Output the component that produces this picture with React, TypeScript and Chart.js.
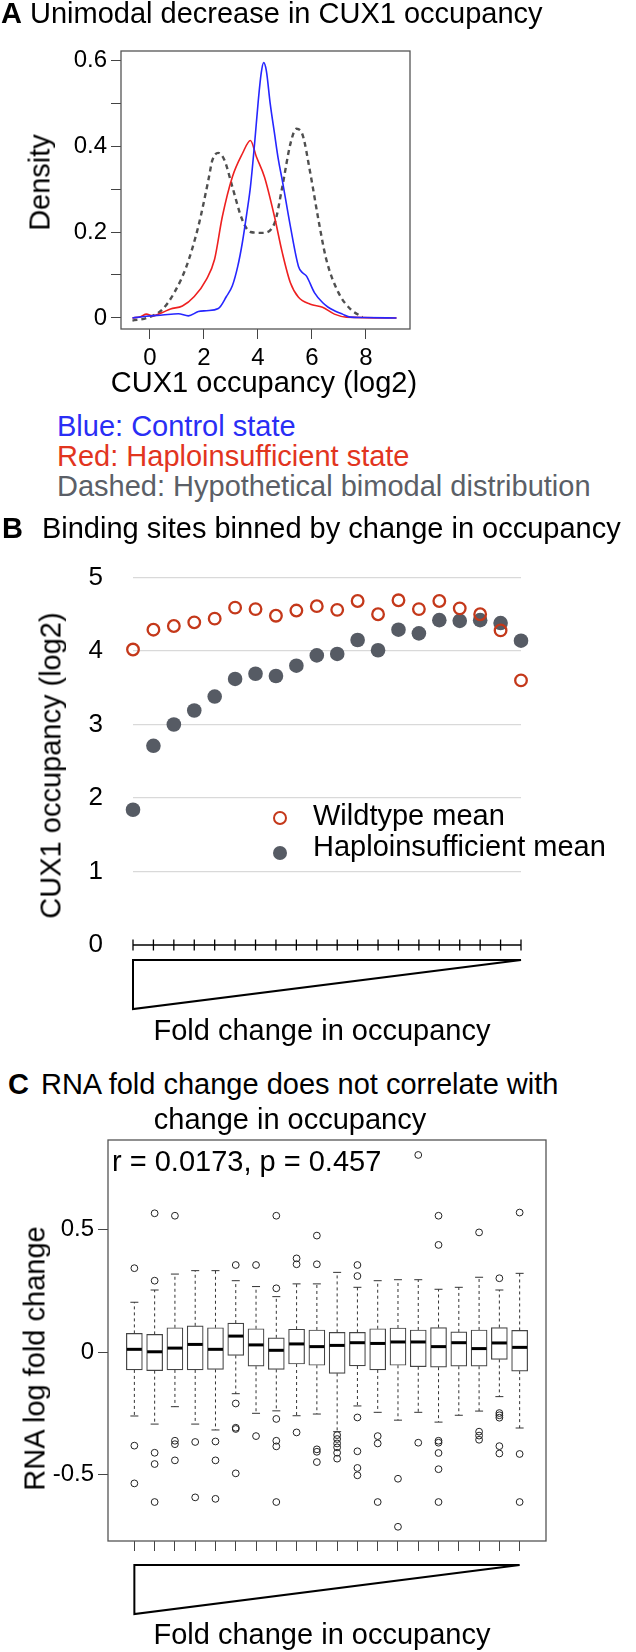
import React, { useEffect, useRef } from "react";
import { Chart, registerables } from "chart.js";

Chart.register(...registerables);

const FONT = '"Liberation Sans", Arial, Helvetica, sans-serif';
Chart.defaults.font.family = FONT;
Chart.defaults.color = "#000";

// ---------- Panel A: density curves ----------
const BLUE_X = [-0.65, -0.13, 0.46, 1.05, 1.42, 1.79, 2.09, 2.53, 2.83, 3.05, 3.25, 3.42, 3.6, 3.72, 3.88, 4.01, 4.12, 4.21, 4.31, 4.45, 4.61, 4.75, 4.9, 5.2, 5.5, 5.65, 5.79, 6.09, 6.39, 6.6, 6.83, 7.13, 7.42, 7.87, 9.13];
const BLUE_Y = [0, 0.004, 0.007, 0.01, 0.005, 0.015, 0.017, 0.022, 0.05, 0.075, 0.12, 0.175, 0.25, 0.305, 0.41, 0.505, 0.57, 0.594, 0.575, 0.5, 0.43, 0.37, 0.32, 0.213, 0.12, 0.105, 0.098, 0.059, 0.036, 0.025, 0.017, 0.009, 0.002, 0.001, 0];
const RED_X = [-0.65, -0.35, -0.13, 0.09, 0.46, 0.76, 1.2, 1.64, 2.09, 2.39, 2.68, 3.05, 3.42, 3.72, 3.94, 4.24, 4.61, 4.9, 5.2, 5.5, 5.94, 6.39, 6.83, 7.27, 9.13];
const RED_Y = [0, 0.003, 0.009, 0.005, 0.013, 0.021, 0.028, 0.05, 0.09, 0.136, 0.236, 0.328, 0.382, 0.413, 0.375, 0.328, 0.236, 0.152, 0.082, 0.048, 0.032, 0.025, 0.009, 0.002, 0];
const DASH_X = [-0.65, -0.13, 0.46, 0.9, 1.35, 1.79, 2.16, 2.31, 2.53, 2.76, 3.05, 3.42, 3.72, 4.16, 4.61, 4.9, 5.2, 5.42, 5.64, 5.94, 6.24, 6.53, 6.98, 7.42, 7.87];
const DASH_Y = [-0.006, 0, 0.02, 0.059, 0.12, 0.213, 0.32, 0.367, 0.384, 0.367, 0.305, 0.228, 0.2, 0.198, 0.22, 0.305, 0.405, 0.44, 0.428, 0.336, 0.228, 0.136, 0.059, 0.021, 0.002];
const A_X_TICKS = [0, 2, 4, 6, 8];
const A_Y_TICKS = [0, 0.1, 0.2, 0.3, 0.4, 0.5, 0.6];

// ---------- Panel B: binned means ----------
const BINS = [1, 2, 3, 4, 5, 6, 7, 8, 9, 10, 11, 12, 13, 14, 15, 16, 17, 18, 19, 20];
const WILDTYPE_MEAN = [4.02, 4.29, 4.34, 4.39, 4.44, 4.59, 4.57, 4.48, 4.55, 4.61, 4.56, 4.68, 4.5, 4.69, 4.57, 4.68, 4.58, 4.5, 4.28, 3.6];
const HAPLO_MEAN = [1.84, 2.71, 3.0, 3.19, 3.38, 3.62, 3.69, 3.66, 3.8, 3.94, 3.96, 4.15, 4.01, 4.29, 4.24, 4.42, 4.41, 4.42, 4.38, 4.14];
const B_Y_TICKS = [0, 1, 2, 3, 4, 5];

// ---------- Panel C: box plots ----------
const UPPER_WHISKER = [0.203, 0.253, 0.318, 0.332, 0.332, 0.291, 0.267, 0.226, 0.278, 0.278, 0.325, 0.264, 0.291, 0.295, 0.295, 0.256, 0.264, 0.305, 0.253, 0.321];
const Q3 = [0.076, 0.072, 0.099, 0.107, 0.099, 0.118, 0.095, 0.058, 0.093, 0.09, 0.08, 0.08, 0.095, 0.098, 0.09, 0.1, 0.082, 0.09, 0.1, 0.088];
const MEDIAN = [0.011, 0.001, 0.016, 0.031, 0.011, 0.065, 0.029, 0.007, 0.033, 0.022, 0.027, 0.038, 0.035, 0.041, 0.041, 0.022, 0.038, 0.014, 0.037, 0.019];
const Q1 = [-0.073, -0.076, -0.073, -0.073, -0.071, -0.014, -0.058, -0.071, -0.049, -0.054, -0.087, -0.057, -0.073, -0.054, -0.06, -0.062, -0.058, -0.058, -0.03, -0.078];
const LOWER_WHISKER = [-0.261, -0.294, -0.223, -0.294, -0.318, -0.17, -0.25, -0.24, -0.26, -0.253, -0.325, -0.22, -0.246, -0.278, -0.246, -0.286, -0.258, -0.241, -0.182, -0.31];
const OUTLIERS: number[][] = [
  [0.342, -0.382, -0.536],
  [0.566, 0.291, -0.411, -0.457, -0.612],
  [0.556, -0.362, -0.376, -0.442],
  [-0.367, -0.593],
  [-0.365, -0.442, -0.599],
  [0.355, -0.21, -0.309, -0.314, -0.495],
  [0.355, -0.343],
  [0.556, 0.26, -0.273, -0.362, -0.385, -0.612],
  [0.382, 0.358, -0.328],
  [0.475, 0.358, -0.397, -0.407, -0.449],
  [-0.339, -0.355, -0.373, -0.389, -0.411, -0.435],
  [0.355, 0.31, -0.267, -0.405, -0.473, -0.503],
  [-0.343, -0.373, -0.612],
  [-0.517, -0.713],
  [0.804, -0.37],
  [0.556, 0.437, -0.362, -0.37, -0.412, -0.478, -0.612],
  [],
  [0.488, -0.325, -0.341, -0.358],
  [0.301, -0.249, -0.258, -0.268, -0.384, -0.414],
  [0.569, -0.416, -0.612],
];
const C_Y_TICKS = [-0.5, 0, 0.5];

// ---------- helpers ----------
const fitW = (w: number) => (s: any) => {
  s.width = w;
  s.paddingTop = 0; s.paddingBottom = 0; s.paddingLeft = 0; s.paddingRight = 0;
};
const fitH = (h: number) => (s: any) => {
  s.height = h;
  s.paddingTop = 0; s.paddingBottom = 0; s.paddingLeft = 0; s.paddingRight = 0;
};
const setTicks = (vals: number[]) => (s: any) => {
  s.ticks = vals.map((v) => ({ value: v }));
};
const framePlugin = (color: string, width: number) => ({
  id: "frame",
  afterDatasetsDraw(chart: any) {
    const { ctx, chartArea: a } = chart;
    ctx.save();
    ctx.strokeStyle = color;
    ctx.lineWidth = width;
    ctx.strokeRect(a.left, a.top, a.right - a.left, a.bottom - a.top);
    ctx.restore();
  },
});
const wedge = (ctx: any, x0: number, x1: number, yTop: number, yBot: number) => {
  ctx.save();
  ctx.strokeStyle = "#000";
  ctx.lineWidth = 2;
  ctx.lineJoin = "miter";
  ctx.beginPath();
  ctx.moveTo(x0, yTop);
  ctx.lineTo(x1, yTop);
  ctx.lineTo(x0, yBot);
  ctx.closePath();
  ctx.stroke();
  ctx.restore();
};

type TP = { x: number; base: number; size?: number; color?: string; align?: "left" | "center"; children: React.ReactNode };
function Txt({ x, base, size = 29, color = "#000", align = "left", children }: TP) {
  const style: React.CSSProperties = {
    position: "absolute",
    top: base - 0.8465 * size,
    fontSize: size,
    lineHeight: `${size}px`,
    fontFamily: FONT,
    color,
    whiteSpace: "nowrap",
  };
  if (align === "left") style.left = x;
  else {
    style.left = x - 400;
    style.width = 800;
    style.textAlign = "center";
  }
  return <div style={style}>{children}</div>;
}
function VTxt({ bx, cy, size = 29, children }: { bx: number; cy: number; size?: number; children: React.ReactNode }) {
  const w = 600;
  const cx = bx - 0.3465 * size;
  return (
    <div
      style={{
        position: "absolute",
        left: cx - w / 2,
        top: cy - size / 2,
        width: w,
        height: size,
        lineHeight: `${size}px`,
        fontSize: size,
        fontFamily: FONT,
        textAlign: "center",
        whiteSpace: "nowrap",
        transform: "rotate(-90deg)",
        transformOrigin: "50% 50%",
      }}
    >
      {children}
    </div>
  );
}

const A_TOP = 0, A_H = 400;
const B_TOP = 540, B_H = 480;
const C_TOP = 1100, C_H = 552;

export default function App() {
  const refA = useRef<HTMLCanvasElement>(null);
  const refB = useRef<HTMLCanvasElement>(null);
  const refC = useRef<HTMLCanvasElement>(null);

  useEffect(() => {
    const charts: Chart[] = [];

    // ----- Panel A -----
    const lineDs = (xs: number[], ys: number[], color: string, width: number, dash: number[] = []) => ({
      data: xs.map((x, i) => ({ x, y: ys[i] })),
      borderColor: color,
      borderWidth: width,
      borderDash: dash,
      pointRadius: 0,
      fill: false,
      cubicInterpolationMode: "monotone" as const,
    });
    charts.push(
      new Chart(refA.current!, {
        type: "line",
        data: {
          datasets: [
            { label: "Control", ...lineDs(BLUE_X, BLUE_Y, "#2626ff", 1.6) },
            { label: "Haploinsufficient", ...lineDs(RED_X, RED_Y, "#ee2020", 1.6) },
            { label: "Bimodal", ...lineDs(DASH_X, DASH_Y, "#505050", 2.4, [5, 4]) },
          ],
        } as any,
        options: {
          animation: false,
          responsive: false,
          maintainAspectRatio: false,
          layout: { padding: { left: 0, top: 51, right: 226, bottom: A_H - 329 - 40 } },
          plugins: { legend: { display: false }, tooltip: { enabled: false } },
          scales: {
            x: {
              type: "linear",
              min: -1.074,
              max: 9.63,
              afterBuildTicks: setTicks(A_X_TICKS),
              afterFit: fitH(40),
              border: { display: false },
              grid: { drawOnChartArea: false, drawTicks: true, tickLength: 10, color: "#444", lineWidth: 1 },
              ticks: { font: { size: 24 }, color: "#000", padding: 5, maxRotation: 0, autoSkip: false, callback: (v: any) => String(v) },
            },
            y: {
              type: "linear",
              min: -0.0256,
              max: 0.621,
              afterBuildTicks: setTicks(A_Y_TICKS),
              afterFit: fitW(121),
              border: { display: false },
              grid: { drawOnChartArea: false, drawTicks: true, tickLength: 10, color: "#444", lineWidth: 1 },
              ticks: {
                font: { size: 24 },
                color: "#000",
                padding: 4,
                autoSkip: false,
                callback: (v: any) => {
                  const r = Math.round(Number(v) * 10);
                  if (r % 2 !== 0) return "";
                  return r === 0 ? "0" : (r / 10).toFixed(1);
                },
              },
            },
          },
        } as any,
        plugins: [framePlugin("#555", 1.3)],
      })
    );

    // ----- Panel B -----
    charts.push(
      new Chart(refB.current!, {
        type: "scatter",
        data: {
          datasets: [
            {
              label: "Wildtype mean",
              data: BINS.map((b, i) => ({ x: b, y: WILDTYPE_MEAN[i] })),
              pointRadius: 5.8,
              pointBorderWidth: 2.3,
              pointBorderColor: "#c4381a",
              pointBackgroundColor: "rgba(0,0,0,0)",
              clip: false,
            },
            {
              label: "Haploinsufficient mean",
              data: BINS.map((b, i) => ({ x: b, y: HAPLO_MEAN[i] })),
              pointRadius: 7.3,
              pointBorderWidth: 0,
              pointBorderColor: "#565b64",
              pointBackgroundColor: "#565b64",
              clip: false,
            },
          ],
        } as any,
        options: {
          animation: false,
          responsive: false,
          maintainAspectRatio: false,
          layout: { padding: { left: 0, top: 577.5 - B_TOP, right: 636 - 521, bottom: B_H - (945 - B_TOP) } },
          plugins: { legend: { display: false }, tooltip: { enabled: false } },
          scales: {
            x: { type: "linear", min: 1, max: 20, display: false },
            y: {
              type: "linear",
              min: 0,
              max: 5,
              afterBuildTicks: setTicks(B_Y_TICKS),
              afterFit: fitW(133),
              border: { display: false },
              grid: {
                drawTicks: false,
                lineWidth: 1.2,
                color: (c: any) => (c.tick && c.tick.value === 0 ? "rgba(0,0,0,0)" : "#d9d9d9"),
              },
              ticks: { font: { size: 26 }, color: "#000", padding: 30, callback: (v: any) => String(v) },
            },
          },
        } as any,
        plugins: [
          {
            id: "tickAxis",
            afterDraw(chart: any) {
              const { ctx } = chart;
              const xs = chart.scales.x;
              const y0 = chart.scales.y.getPixelForValue(0);
              const x0 = xs.getPixelForValue(BINS[0]);
              const x1 = xs.getPixelForValue(BINS[BINS.length - 1]);
              ctx.save();
              ctx.strokeStyle = "#000";
              ctx.lineWidth = 1.5;
              ctx.beginPath();
              ctx.moveTo(x0, y0);
              ctx.lineTo(x1, y0);
              ctx.stroke();
              ctx.lineWidth = 1.3;
              BINS.forEach((b) => {
                const px = xs.getPixelForValue(b);
                ctx.beginPath();
                ctx.moveTo(px, y0 - 5.5);
                ctx.lineTo(px, y0 + 5.5);
                ctx.stroke();
              });
              ctx.restore();
              wedge(ctx, x0, x1, y0 + 15, y0 + 64);
            },
          },
        ],
      })
    );

    // ----- Panel C -----
    charts.push(
      new Chart(refC.current!, {
        type: "bar",
        data: {
          datasets: [
            {
              type: "bar",
              label: "IQR",
              data: BINS.map((b, i) => ({ x: b, y: [Q1[i], Q3[i]] })),
              backgroundColor: "#ffffff",
              borderColor: "#444",
              borderWidth: 1.2,
              borderSkipped: false,
              barThickness: 16,
              grouped: false,
              order: 2,
            },
            {
              type: "scatter",
              label: "Outliers",
              data: BINS.flatMap((b, i) => OUTLIERS[i].map((v) => ({ x: b, y: v }))),
              pointRadius: 3.4,
              pointBorderWidth: 1,
              pointBorderColor: "#222",
              pointBackgroundColor: "rgba(0,0,0,0)",
              order: 1,
            },
          ],
        } as any,
        options: {
          animation: false,
          responsive: false,
          maintainAspectRatio: false,
          layout: { padding: { left: 0, top: 1140 - C_TOP, right: 636 - 546, bottom: C_H - (1541 - C_TOP) - 20 } },
          plugins: { legend: { display: false }, tooltip: { enabled: false } },
          scales: {
            x: {
              type: "linear",
              min: -0.3,
              max: 21.3,
              offset: false,
              afterBuildTicks: setTicks(BINS),
              afterFit: fitH(20),
              border: { display: false },
              grid: { offset: false, drawOnChartArea: false, drawTicks: true, tickLength: 10, color: "#444", lineWidth: 1 },
              ticks: { display: false, autoSkip: false },
            },
            y: {
              type: "linear",
              min: -0.771,
              max: 0.865,
              beginAtZero: false,
              afterBuildTicks: setTicks(C_Y_TICKS),
              afterFit: fitW(108),
              border: { display: false },
              grid: { drawOnChartArea: false, drawTicks: true, tickLength: 10, color: "#444", lineWidth: 1 },
              ticks: { font: { size: 24 }, color: "#000", padding: 4, callback: (v: any) => String(v) },
            },
          },
        } as any,
        plugins: [
          {
            id: "boxParts",
            afterDatasetsDraw(chart: any) {
              const { ctx, chartArea: a } = chart;
              const xs = chart.scales.x;
              const ys = chart.scales.y;
              ctx.save();
              BINS.forEach((b, i) => {
                const px = xs.getPixelForValue(b);
                const seg = (x0: number, y0: number, x1: number, y1: number) => {
                  ctx.beginPath();
                  ctx.moveTo(x0, y0);
                  ctx.lineTo(x1, y1);
                  ctx.stroke();
                };
                ctx.strokeStyle = "#333";
                ctx.lineWidth = 1;
                ctx.setLineDash([3, 3]);
                seg(px, ys.getPixelForValue(Q3[i]), px, ys.getPixelForValue(UPPER_WHISKER[i]));
                seg(px, ys.getPixelForValue(Q1[i]), px, ys.getPixelForValue(LOWER_WHISKER[i]));
                ctx.setLineDash([]);
                const up = ys.getPixelForValue(UPPER_WHISKER[i]);
                const lo = ys.getPixelForValue(LOWER_WHISKER[i]);
                seg(px - 4, up, px + 4, up);
                seg(px - 4, lo, px + 4, lo);
                ctx.strokeStyle = "#000";
                ctx.lineWidth = 3;
                const m = ys.getPixelForValue(MEDIAN[i]);
                seg(px - 7.5, m, px + 7.5, m);
              });
              ctx.strokeStyle = "#555";
              ctx.lineWidth = 1.3;
              ctx.strokeRect(a.left, a.top, a.right - a.left, a.bottom - a.top);
              ctx.restore();
              const x0 = xs.getPixelForValue(BINS[0]);
              const x1 = xs.getPixelForValue(BINS[BINS.length - 1]);
              wedge(ctx, x0, x1, a.bottom + 24, a.bottom + 73);
            },
          },
        ],
      })
    );

    return () => charts.forEach((c) => c.destroy());
  }, []);

  const cv = (top: number, h: number): React.CSSProperties => ({
    position: "absolute",
    left: 0,
    top,
    width: 636,
    height: h,
  });

  return (
    <div style={{ position: "absolute", left: 0, top: 0, width: 636, height: 1652, background: "#fff", overflow: "hidden", fontFamily: FONT }}>
      <canvas ref={refA} width={636} height={A_H} style={cv(A_TOP, A_H)} />
      <canvas ref={refB} width={636} height={B_H} style={cv(B_TOP, B_H)} />
      <canvas ref={refC} width={636} height={C_H} style={cv(C_TOP, C_H)} />

      {/* Panel A texts */}
      <Txt x={1} base={24}>
        <b>A</b> Unimodal decrease in CUX1 occupancy
      </Txt>
      <VTxt bx={49.6} cy={182}>Density</VTxt>
      <Txt x={264} base={393} align="center">CUX1 occupancy (log2)</Txt>
      <Txt x={57} base={437} color="#2a2ef5">Blue: Control state</Txt>
      <Txt x={57} base={467} color="#e2351e">Red: Haploinsufficient state</Txt>
      <Txt x={57} base={497} color="#5b5f67">Dashed: Hypothetical bimodal distribution</Txt>

      {/* Panel B texts */}
      <Txt x={2} base={539}>
        <b>B</b>
        <span style={{ marginLeft: 19 }}>Binding sites binned by change in occupancy</span>
      </Txt>
      <VTxt bx={61} cy={765}>CUX1 occupancy (log2)</VTxt>
      <div style={{ position: "absolute", left: 280 - 7, top: 818 - 7, width: 14, height: 14, boxSizing: "border-box", border: "2.3px solid #c4381a", borderRadius: "50%" }} />
      <div style={{ position: "absolute", left: 280 - 7.3, top: 853 - 7.3, width: 14.6, height: 14.6, background: "#565b64", borderRadius: "50%" }} />
      <Txt x={313} base={826}>Wildtype mean</Txt>
      <Txt x={313} base={857}>Haploinsufficient mean</Txt>
      <Txt x={322} base={1041} align="center">Fold change in occupancy</Txt>

      {/* Panel C texts */}
      <Txt x={8} base={1095}>
        <b>C</b>
        <span style={{ marginLeft: 12 }}>RNA fold change does not correlate with</span>
      </Txt>
      <Txt x={290} base={1130} align="center">change in occupancy</Txt>
      <Txt x={112} base={1172}>r = 0.0173, p = 0.457</Txt>
      <VTxt bx={45.5} cy={1358}>RNA log fold change</VTxt>
      <Txt x={322} base={1645} align="center">Fold change in occupancy</Txt>
    </div>
  );
}
